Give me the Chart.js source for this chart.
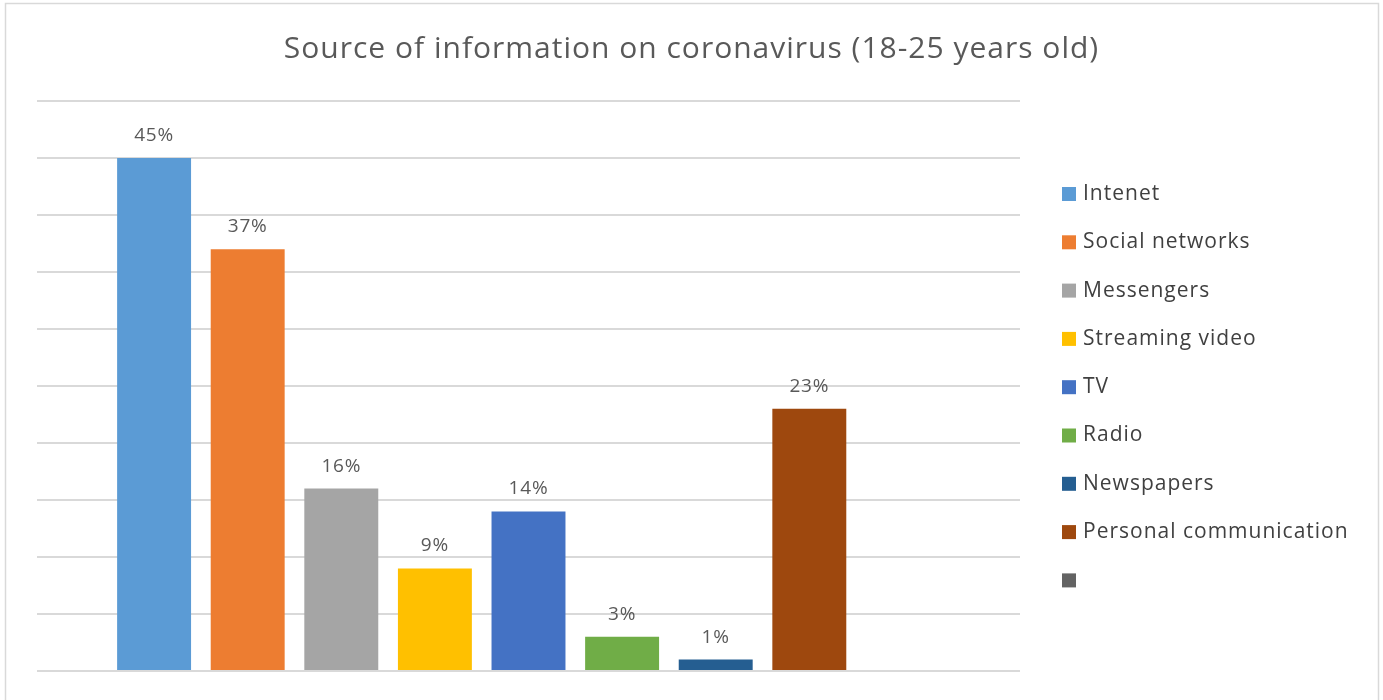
<!DOCTYPE html>
<html lang="en">
<head>
<meta charset="UTF-8">
<title>Source of information on coronavirus</title>
<script src="https://cdn.jsdelivr.net/npm/chart.js"></script>
<style>
  html, body { margin: 0; padding: 0; background: #fff; overflow: hidden; }
  #wrap { width: 1383px; height: 700px; }
</style>
</head>
<body>
<div id="wrap"><canvas id="sourceChart" width="1383" height="700"></canvas></div>
<script>
// survey answers, one series per source
const categories = [''];
const sourceLabels = ['Intenet', 'Social networks', 'Messengers', 'Streaming video', 'TV', 'Radio', 'Newspapers', 'Personal communication', ''];
const shareValues = [45, 37, 16, 9, 14, 3, 1, 23, null];
const seriesColors = ['#5B9BD5', '#ED7D31', '#A5A5A5', '#FFC000', '#4472C4', '#70AD47', '#255E91', '#9E480E', '#636363'];
const yMax = 50;
const yStep = 5;
const chartTitle = 'Source of information on coronavirus (18-25 years old)';

const FONT = '"Open Sans", "Noto Sans", "DejaVu Sans", sans-serif';

const datasets = sourceLabels.map((label, i) => ({
  label: label,
  data: [shareValues[i]],
  backgroundColor: seriesColors[i],
  borderWidth: 0
}));

// white background, thin frame and the centred heading
const frame = {
  id: 'frame',
  beforeDraw(chart) {
    const ctx = chart.ctx;
    ctx.save();
    ctx.fillStyle = '#fff';
    ctx.fillRect(0, 0, chart.width, chart.height);
    ctx.strokeStyle = '#d9d9d9';
    ctx.lineWidth = 1.5;
    ctx.strokeRect(5.5, 3.5, 1373, 760);

    ctx.font = '30px ' + FONT;
    ctx.letterSpacing = '1px';
    ctx.fillStyle = '#595959';
    ctx.textAlign = 'center';
    ctx.textBaseline = 'middle';
    ctx.fillText(chartTitle, chart.width / 2, 49);
    ctx.restore();
  }
};

// percentage above each bar
const valueLabels = {
  id: 'valueLabels',
  afterDatasetsDraw(chart) {
    const ctx = chart.ctx;
    ctx.save();
    ctx.font = '19px ' + FONT;
    ctx.letterSpacing = '0.8px';
    ctx.fillStyle = '#595959';
    ctx.textAlign = 'center';
    ctx.textBaseline = 'alphabetic';
    chart.data.datasets.forEach((ds, i) => {
      const v = ds.data[0];
      if (v == null) return;
      const bar = chart.getDatasetMeta(i).data[0];
      ctx.fillText(v + '%', bar.x, bar.y - 17);
    });
    ctx.restore();
  }
};

// legend column on the right
const sideLegend = {
  id: 'sideLegend',
  afterDraw(chart) {
    const ctx = chart.ctx;
    ctx.save();
    ctx.font = '21px ' + FONT;
    ctx.letterSpacing = '1px';
    ctx.textBaseline = 'middle';
    ctx.textAlign = 'left';
    chart.data.datasets.forEach((ds, i) => {
      const cy = 194 + i * 48.3;
      ctx.fillStyle = ds.backgroundColor;
      ctx.fillRect(1062, cy - 7, 14, 14);
      ctx.fillStyle = '#404040';
      ctx.fillText(ds.label, 1083, cy);
    });
    ctx.restore();
  }
};

new Chart(document.getElementById('sourceChart'), {
  type: 'bar',
  data: { labels: categories, datasets: datasets },
  options: {
    responsive: false,
    animation: false,
    categoryPercentage: 0.857,
    barPercentage: 0.79,
    layout: { padding: { left: 37, right: 363, bottom: 29, top: 101 } },
    plugins: {
      legend: { display: false },
      tooltip: { enabled: false },
      title: { display: false }
    },
    scales: {
      x: { display: false },
      y: {
        min: 0,
        max: yMax,
        ticks: { display: false, stepSize: yStep },
        grid: { color: '#d9d9d9', lineWidth: 2, drawTicks: false },
        border: { display: false }
      }
    }
  },
  plugins: [frame, valueLabels, sideLegend]
});
</script>
</body>
</html>
